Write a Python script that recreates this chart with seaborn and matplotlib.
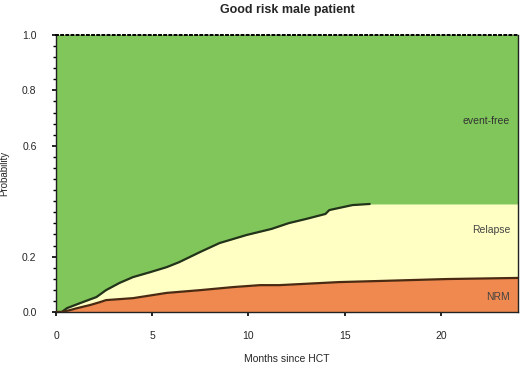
import numpy as np
import pandas as pd
import matplotlib
matplotlib.use("Agg")
import matplotlib.pyplot as plt
import seaborn as sns

# ---- data ----
relapse_months = [0.0, 0.3, 0.57, 1.4, 2.1, 2.6, 3.3, 4.0, 4.9, 5.75, 6.4, 7.5,
                  8.5, 9.9, 11.2, 12.1, 13.0, 14.0, 14.2, 15.4, 16.3]
relapse_cum = [0.0, 0.0, 0.014, 0.036, 0.054, 0.079, 0.105, 0.126, 0.144, 0.162,
               0.18, 0.217, 0.249, 0.278, 0.30, 0.321, 0.336, 0.354, 0.368, 0.386, 0.39]
nrm_months = [0.0, 0.3, 0.73, 1.1, 1.76, 2.3, 2.6, 4.0, 5.75, 7.5, 9.2, 10.6,
              11.6, 14.7, 16.8, 20.3, 24.0]
nrm_cum = [0.0, 0.0, 0.007, 0.014, 0.025, 0.036, 0.043, 0.05, 0.069, 0.079, 0.09,
           0.097, 0.097, 0.108, 0.112, 0.119, 0.123]
x_max = 24.0
x_ticks = [0, 5, 10, 15, 20]
y_ticks = [0.0, 0.2, 0.6, 0.8, 1.0]
y_tick_labels = ["0.0", "0.2", "0.6", "0.8", "1.0"]
region_labels = ["event-free", "Relapse", "NRM"]

GREEN = "#80c65a"
YELLOW = "#ffffc4"
ORANGE = "#f0894f"

sns.set_style("white")
plt.rcParams["font.family"] = ["Liberation Sans", "DejaVu Sans"]

fig = plt.figure(figsize=(5.2, 3.66), dpi=100)
ax = fig.add_axes([0.1077, 0.1475, 0.996 - 0.1077, 0.9044 - 0.1475])

# extend upper curve flat to the end for the filled area
up_x = relapse_months + [x_max]
up_y = relapse_cum + [relapse_cum[-1]]

ax.set_facecolor(GREEN)
ax.fill_between(up_x, up_y, 0, color=YELLOW, lw=0, zorder=1)
ax.fill_between(nrm_months, nrm_cum, 0, color=ORANGE, lw=0, zorder=2)

df_rel = pd.DataFrame({"m": relapse_months, "p": relapse_cum})
df_nrm = pd.DataFrame({"m": nrm_months, "p": nrm_cum})
sns.lineplot(data=df_rel, x="m", y="p", ax=ax, color="#22331a", lw=1.6,
             estimator=None, sort=False, zorder=3)
sns.lineplot(data=df_nrm, x="m", y="p", ax=ax, color="#4a2a12", lw=1.6,
             estimator=None, sort=False, zorder=3)

ax.set_xlim(0, x_max)
ax.set_ylim(0, 1)
ax.set_xticks(x_ticks)
ax.set_xticklabels([str(t) for t in x_ticks], fontsize=7.5)
ax.set_yticks(y_ticks)
ax.set_yticklabels(y_tick_labels, fontsize=7.5)
ax.set_yticks(np.arange(0, 1.0001, 0.04), minor=True)
ax.tick_params(axis="both", which="major", length=3, width=1.2, color="black",
               pad=11, direction="out", left=True, bottom=True)
ax.tick_params(axis="y", which="minor", length=2, width=1, color="black",
               left=True)

for s in ["left", "right", "bottom"]:
    ax.spines[s].set_visible(True)
    ax.spines[s].set_color("#222222")
    ax.spines[s].set_linewidth(1.0)
ax.spines["top"].set_visible(True)
ax.spines["top"].set_color("black")
ax.spines["top"].set_linestyle(":")
ax.spines["top"].set_linewidth(1.4)

ax.set_xlabel("Months since HCT", fontsize=7.5, labelpad=9)
ax.set_ylabel("Probability", fontsize=7, labelpad=9)
ax.set_title("Good risk male patient", fontsize=9, fontweight="bold", pad=16)

ax.text(23.6, 0.69, region_labels[0], ha="right", va="center", fontsize=7.5, color="#333333")
ax.text(23.6, 0.295, region_labels[1], ha="right", va="center", fontsize=7.5, color="#444444")
ax.text(23.6, 0.055, region_labels[2], ha="right", va="center", fontsize=7.5, color="#444444")

fig.savefig("out.png", dpi=100)
